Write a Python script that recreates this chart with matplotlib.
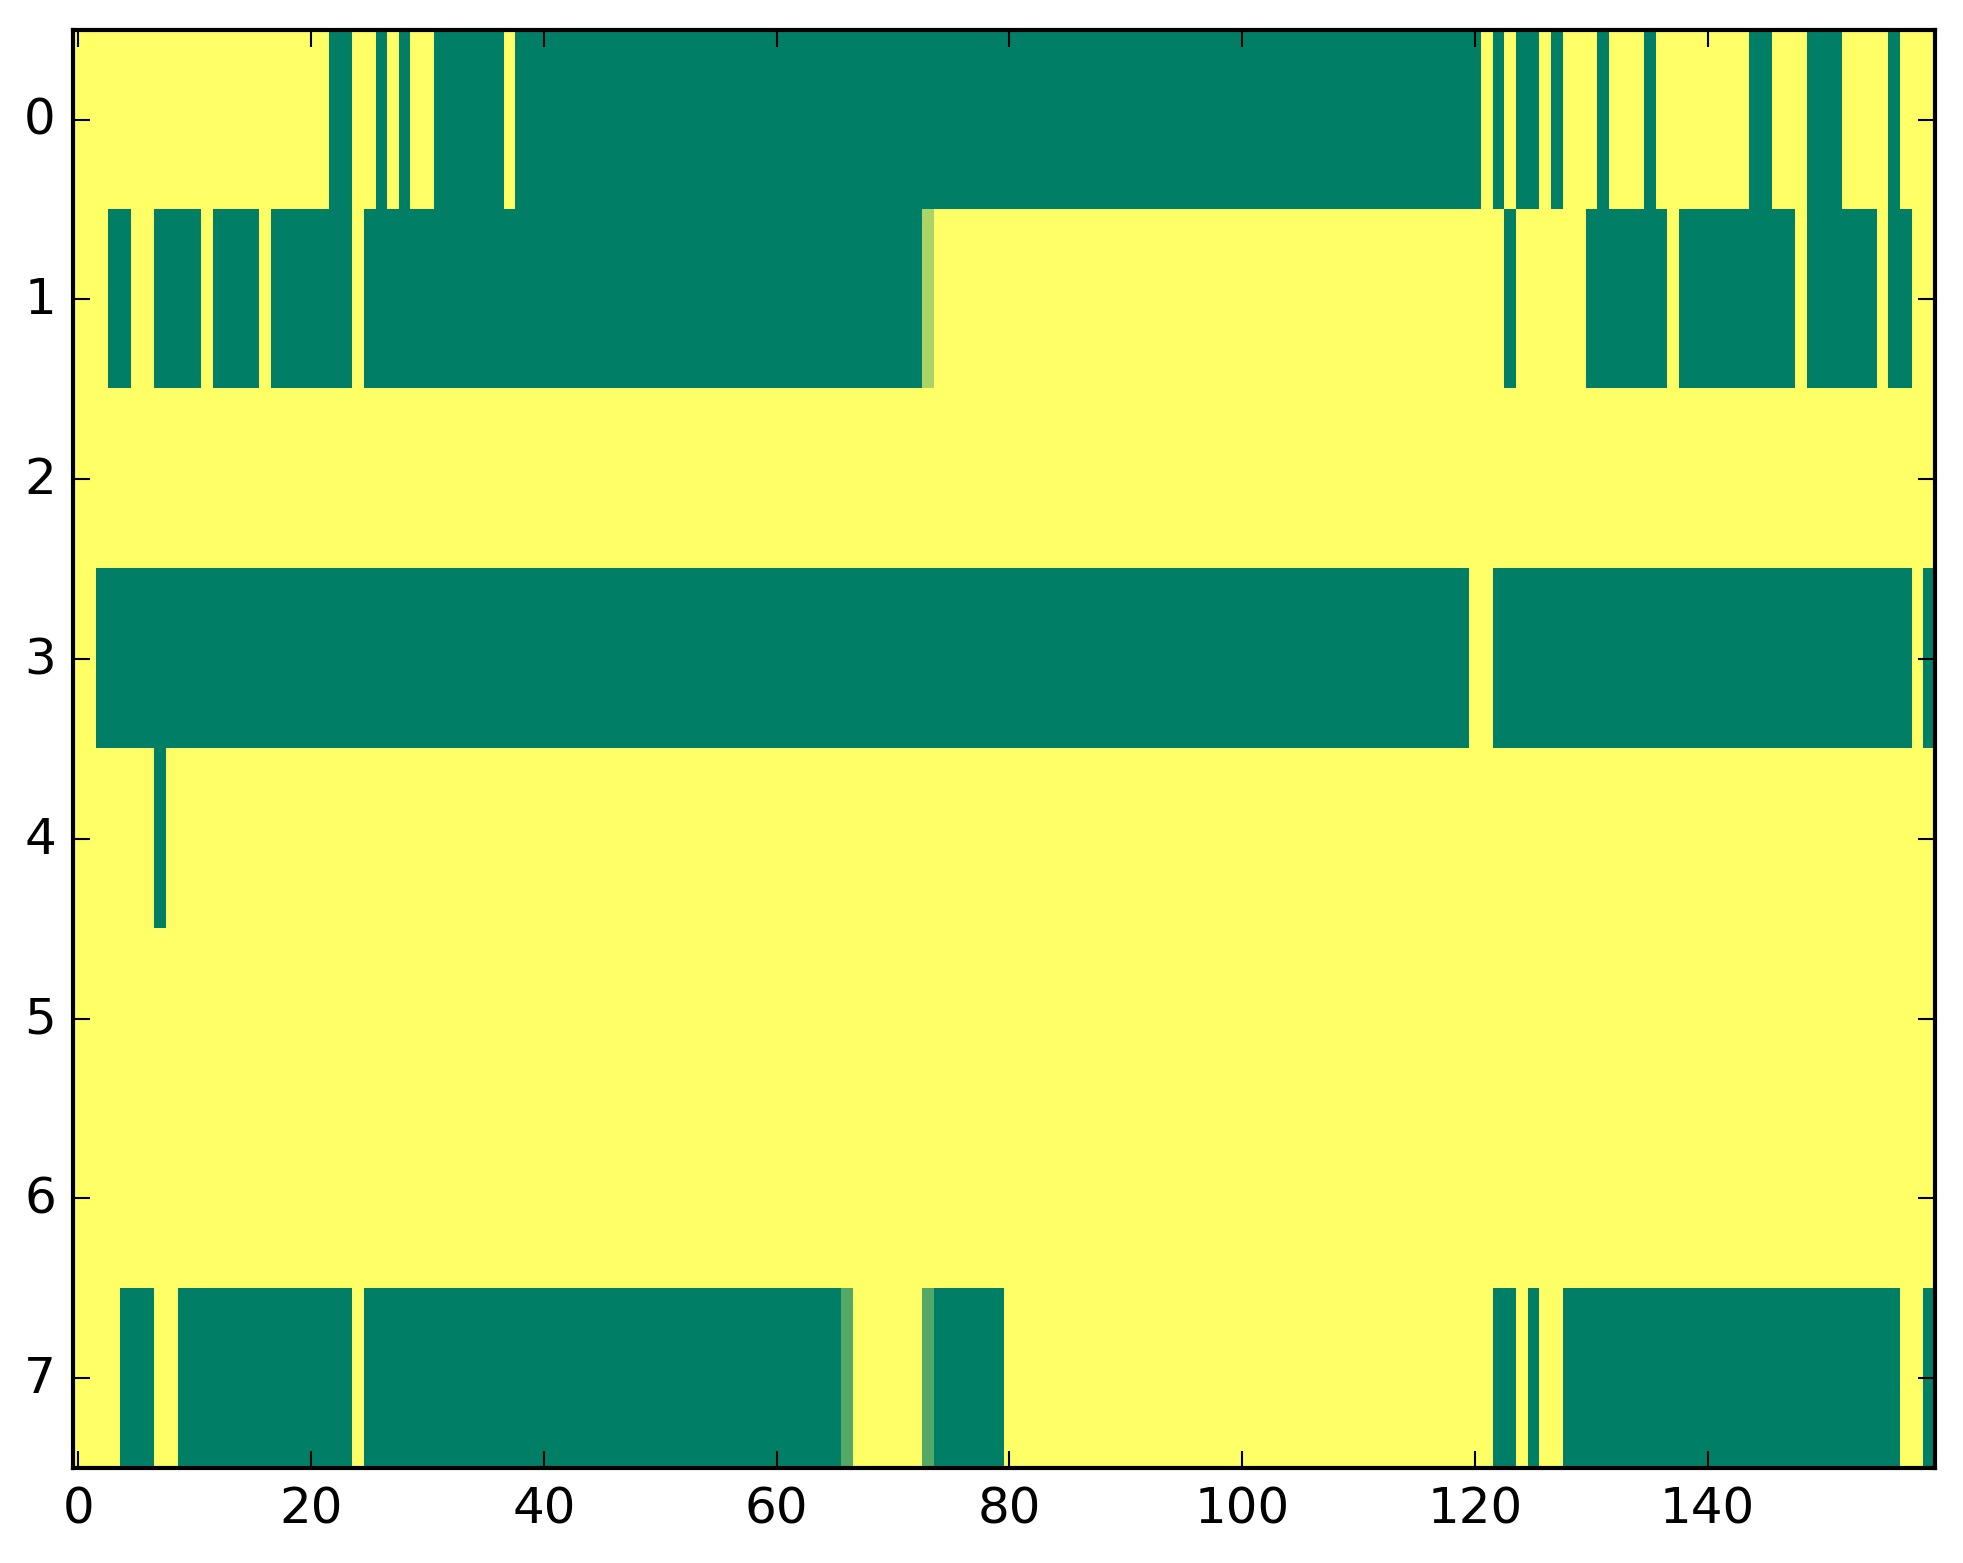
import matplotlib
matplotlib.use("Agg")
import matplotlib.pyplot as plt
import numpy as np

# Row values (1 = yellow end of 'summer', 0 = green end), 160 columns each
row0 = [
    1,1,1,1,1,1,1,1,1,1,1,1,1,1,1,1,1,1,1,1,
    1,1,0,0,1,1,0,1,0,1,1,0,0,0,0,0,0,1,0,0,
    0,0,0,0,0,0,0,0,0,0,0,0,0,0,0,0,0,0,0,0,
    0,0,0,0,0,0,0,0,0,0,0,0,0,0,0,0,0,0,0,0,
    0,0,0,0,0,0,0,0,0,0,0,0,0,0,0,0,0,0,0,0,
    0,0,0,0,0,0,0,0,0,0,0,0,0,0,0,0,0,0,0,0,
    0,1,0,1,0,0,1,0,1,1,1,0,1,1,1,0,1,1,1,1,
    1,1,1,1,0,0,1,1,1,0,0,0,1,1,1,1,0,1,1,1,
]
row1 = [
    1,1,1,0,0,1,1,0,0,0,0,1,0,0,0,0,1,0,0,0,
    0,0,0,0,1,0,0,0,0,0,0,0,0,0,0,0,0,0,0,0,
    0,0,0,0,0,0,0,0,0,0,0,0,0,0,0,0,0,0,0,0,
    0,0,0,0,0,0,0,0,0,0,0,0,0,0.67,1,1,1,1,1,1,
    1,1,1,1,1,1,1,1,1,1,1,1,1,1,1,1,1,1,1,1,
    1,1,1,1,1,1,1,1,1,1,1,1,1,1,1,1,1,1,1,1,
    1,1,1,0,1,1,1,1,1,1,0,0,0,0,0,0,0,1,0,0,
    0,0,0,0,0,0,0,0,1,0,0,0,0,0,0,1,0,0,1,1,
]
row2 = [
    1,1,1,1,1,1,1,1,1,1,1,1,1,1,1,1,1,1,1,1,
    1,1,1,1,1,1,1,1,1,1,1,1,1,1,1,1,1,1,1,1,
    1,1,1,1,1,1,1,1,1,1,1,1,1,1,1,1,1,1,1,1,
    1,1,1,1,1,1,1,1,1,1,1,1,1,1,1,1,1,1,1,1,
    1,1,1,1,1,1,1,1,1,1,1,1,1,1,1,1,1,1,1,1,
    1,1,1,1,1,1,1,1,1,1,1,1,1,1,1,1,1,1,1,1,
    1,1,1,1,1,1,1,1,1,1,1,1,1,1,1,1,1,1,1,1,
    1,1,1,1,1,1,1,1,1,1,1,1,1,1,1,1,1,1,1,1,
]
row3 = [
    1,1,0,0,0,0,0,0,0,0,0,0,0,0,0,0,0,0,0,0,
    0,0,0,0,0,0,0,0,0,0,0,0,0,0,0,0,0,0,0,0,
    0,0,0,0,0,0,0,0,0,0,0,0,0,0,0,0,0,0,0,0,
    0,0,0,0,0,0,0,0,0,0,0,0,0,0,0,0,0,0,0,0,
    0,0,0,0,0,0,0,0,0,0,0,0,0,0,0,0,0,0,0,0,
    0,0,0,0,0,0,0,0,0,0,0,0,0,0,0,0,0,0,0,0,
    1,1,0,0,0,0,0,0,0,0,0,0,0,0,0,0,0,0,0,0,
    0,0,0,0,0,0,0,0,0,0,0,0,0,0,0,0,0,0,1,0,
]
row4 = [
    1,1,1,1,1,1,1,0,1,1,1,1,1,1,1,1,1,1,1,1,
    1,1,1,1,1,1,1,1,1,1,1,1,1,1,1,1,1,1,1,1,
    1,1,1,1,1,1,1,1,1,1,1,1,1,1,1,1,1,1,1,1,
    1,1,1,1,1,1,1,1,1,1,1,1,1,1,1,1,1,1,1,1,
    1,1,1,1,1,1,1,1,1,1,1,1,1,1,1,1,1,1,1,1,
    1,1,1,1,1,1,1,1,1,1,1,1,1,1,1,1,1,1,1,1,
    1,1,1,1,1,1,1,1,1,1,1,1,1,1,1,1,1,1,1,1,
    1,1,1,1,1,1,1,1,1,1,1,1,1,1,1,1,1,1,1,1,
]
row5 = [
    1,1,1,1,1,1,1,1,1,1,1,1,1,1,1,1,1,1,1,1,
    1,1,1,1,1,1,1,1,1,1,1,1,1,1,1,1,1,1,1,1,
    1,1,1,1,1,1,1,1,1,1,1,1,1,1,1,1,1,1,1,1,
    1,1,1,1,1,1,1,1,1,1,1,1,1,1,1,1,1,1,1,1,
    1,1,1,1,1,1,1,1,1,1,1,1,1,1,1,1,1,1,1,1,
    1,1,1,1,1,1,1,1,1,1,1,1,1,1,1,1,1,1,1,1,
    1,1,1,1,1,1,1,1,1,1,1,1,1,1,1,1,1,1,1,1,
    1,1,1,1,1,1,1,1,1,1,1,1,1,1,1,1,1,1,1,1,
]
row6 = [
    1,1,1,1,1,1,1,1,1,1,1,1,1,1,1,1,1,1,1,1,
    1,1,1,1,1,1,1,1,1,1,1,1,1,1,1,1,1,1,1,1,
    1,1,1,1,1,1,1,1,1,1,1,1,1,1,1,1,1,1,1,1,
    1,1,1,1,1,1,1,1,1,1,1,1,1,1,1,1,1,1,1,1,
    1,1,1,1,1,1,1,1,1,1,1,1,1,1,1,1,1,1,1,1,
    1,1,1,1,1,1,1,1,1,1,1,1,1,1,1,1,1,1,1,1,
    1,1,1,1,1,1,1,1,1,1,1,1,1,1,1,1,1,1,1,1,
    1,1,1,1,1,1,1,1,1,1,1,1,1,1,1,1,1,1,1,1,
]
row7 = [
    1,1,1,1,0,0,0,1,1,0,0,0,0,0,0,0,0,0,0,0,
    0,0,0,0,1,0,0,0,0,0,0,0,0,0,0,0,0,0,0,0,
    0,0,0,0,0,0,0,0,0,0,0,0,0,0,0,0,0,0,0,0,
    0,0,0,0,0,0,0.33,1,1,1,1,1,1,0.33,0,0,0,0,0,0,
    1,1,1,1,1,1,1,1,1,1,1,1,1,1,1,1,1,1,1,1,
    1,1,1,1,1,1,1,1,1,1,1,1,1,1,1,1,1,1,1,1,
    1,1,0,0,1,0,1,1,0,0,0,0,0,0,0,0,0,0,0,0,
    0,0,0,0,0,0,0,0,0,0,0,0,0,0,0,0,0,1,1,0,
]

x_ticks = [0, 20, 40, 60, 80, 100, 120, 140]
y_ticks = [0, 1, 2, 3, 4, 5, 6, 7]

data = np.array([row0, row1, row2, row3, row4, row5, row6, row7], dtype=float)

plt.style.use("classic")
plt.rcParams["font.family"] = ["DejaVu Sans"]

fig = plt.figure(figsize=(1963 / 300, 1564 / 300), dpi=300, facecolor="white")
ax = fig.add_axes([0.037, 0.0606, 0.9485, 0.9198])
ax.imshow(data, cmap="summer", vmin=0, vmax=1, aspect="auto",
          interpolation="nearest")
ax.set_xticks(x_ticks)
ax.set_yticks(y_ticks)
ax.set_xlim(-0.5, data.shape[1] - 0.5)
ax.set_ylim(data.shape[0] - 0.5, -0.5)

fig.savefig("out.png", dpi=300, facecolor="white")
